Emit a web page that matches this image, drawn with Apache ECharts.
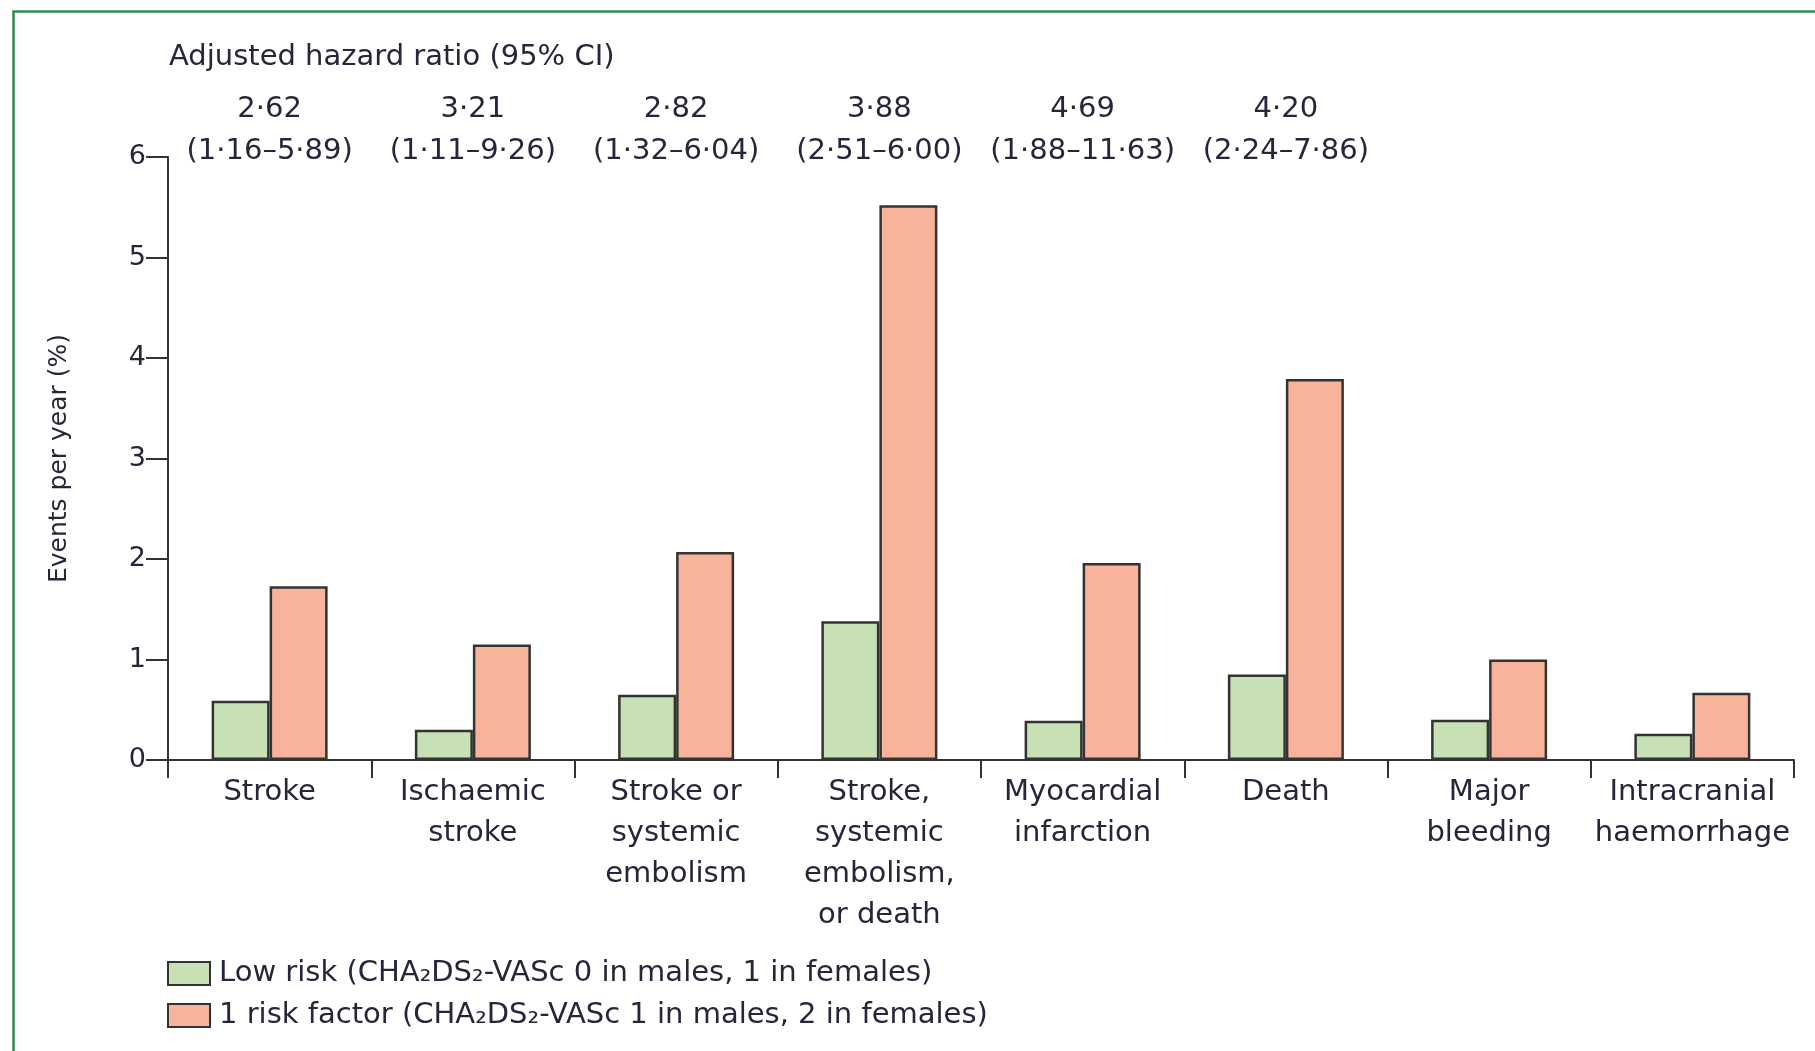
<!DOCTYPE html>
<html>
<head>
<meta charset="utf-8">
<script src="https://cdn.jsdelivr.net/npm/echarts@6/dist/echarts.min.js"></script>
<style>
html,body{margin:0;padding:0;background:#fff;}
#chart{width:1815px;height:1051px;}
</style>
</head>
<body>
<div id="chart"></div>
<script>
const categories = ['Stroke', 'Ischaemic\nstroke', 'Stroke or\nsystemic\nembolism', 'Stroke,\nsystemic\nembolism,\nor death', 'Myocardial\ninfarction', 'Death', 'Major\nbleeding', 'Intracranial\nhaemorrhage'];
const lowRisk = [0.59, 0.30, 0.65, 1.38, 0.39, 0.85, 0.40, 0.26];
const oneRiskFactor = [1.73, 1.15, 2.07, 5.52, 1.96, 3.79, 1.00, 0.67];
const hazardRatio = ['2·62', '3·21', '2·82', '3·88', '4·69', '4·20', '', ''];
const hazardCI = ['(1·16–5·89)', '(1·11–9·26)', '(1·32–6·04)', '(2·51–6·00)', '(1·88–11·63)', '(2·24–7·86)', '', ''];
const seriesNames = ['Low risk (CHA₂DS₂-VASc 0 in males, 1 in females)', '1 risk factor (CHA₂DS₂-VASc 1 in males, 2 in females)'];
const titleText = 'Adjusted hazard ratio (95% CI)';
const yAxisName = 'Events per year (%)';

const FONT = '"DejaVu Sans", "Open Sans", sans-serif';
const TXT = '#26263a';
const chart = echarts.init(document.getElementById('chart'));
chart.setOption({
  animation: false,
  backgroundColor: '#fff',
  textStyle: { fontFamily: FONT, color: TXT },
  graphic: [{
    type: 'rect', left: 11, top: 9, z: -1,
    shape: { width: 1830, height: 1080 },
    style: { fill: 'none', stroke: '#2f8a4f', lineWidth: 2.5 }
  }],
  title: {
    text: titleText, left: 164, top: 38,
    textStyle: { fontFamily: FONT, fontSize: 29, fontWeight: 'normal', color: TXT }
  },
  legend: {
    orient: 'vertical', left: 167, top: 959, padding: 0,
    itemWidth: 42, itemHeight: 23, itemGap: 13,
    icon: 'rect',
    textStyle: { fontFamily: FONT, fontSize: 29, lineHeight: 23, color: TXT, padding: [0, 0, 0, 4] },
    data: seriesNames
  },
  grid: { left: 168, right: 21, top: 157, bottom: 291, containLabel: false },
  xAxis: [{
    type: 'category', data: categories, position: 'bottom',
    axisLine: { lineStyle: { color: '#333', width: 2 } },
    axisTick: { show: true, length: 18, interval: 0, lineStyle: { color: '#333', width: 2 } },
    axisLabel: { interval: 0, fontFamily: FONT, fontSize: 29, lineHeight: 41, color: TXT, margin: 12 }
  }, {
    type: 'category', data: categories, position: 'top',
    axisLine: { show: false }, axisTick: { show: false },
    axisLabel: {
      interval: 0, fontFamily: FONT, fontSize: 29, lineHeight: 42, color: TXT, margin: -15,
      formatter: function (v, i) { return hazardRatio[i] ? hazardRatio[i] + '\n' + hazardCI[i] : ''; }
    }
  }],
  yAxis: {
    type: 'value', min: 0, max: 6, interval: 1,
    name: yAxisName, nameLocation: 'middle', nameGap: 96, nameRotate: 90,
    nameTextStyle: { fontFamily: FONT, fontSize: 25, color: TXT },
    axisLine: { show: true, lineStyle: { color: '#333', width: 2 } },
    axisTick: { show: true, length: 22, lineStyle: { color: '#333', width: 2 } },
    splitLine: { show: false },
    axisLabel: { fontFamily: FONT, fontSize: 27, color: TXT, margin: 22 }
  },
  series: [{
    name: seriesNames[0], type: 'bar', data: lowRisk, barWidth: 58, barGap: '0%',
    itemStyle: { color: '#c7e0b4', borderColor: '#333', borderWidth: 2.5 }
  }, {
    name: seriesNames[1], type: 'bar', data: oneRiskFactor, barWidth: 58, barGap: '0%',
    itemStyle: { color: '#f8b49b', borderColor: '#333', borderWidth: 2.5 }
  }]
});
</script>
</body>
</html>
